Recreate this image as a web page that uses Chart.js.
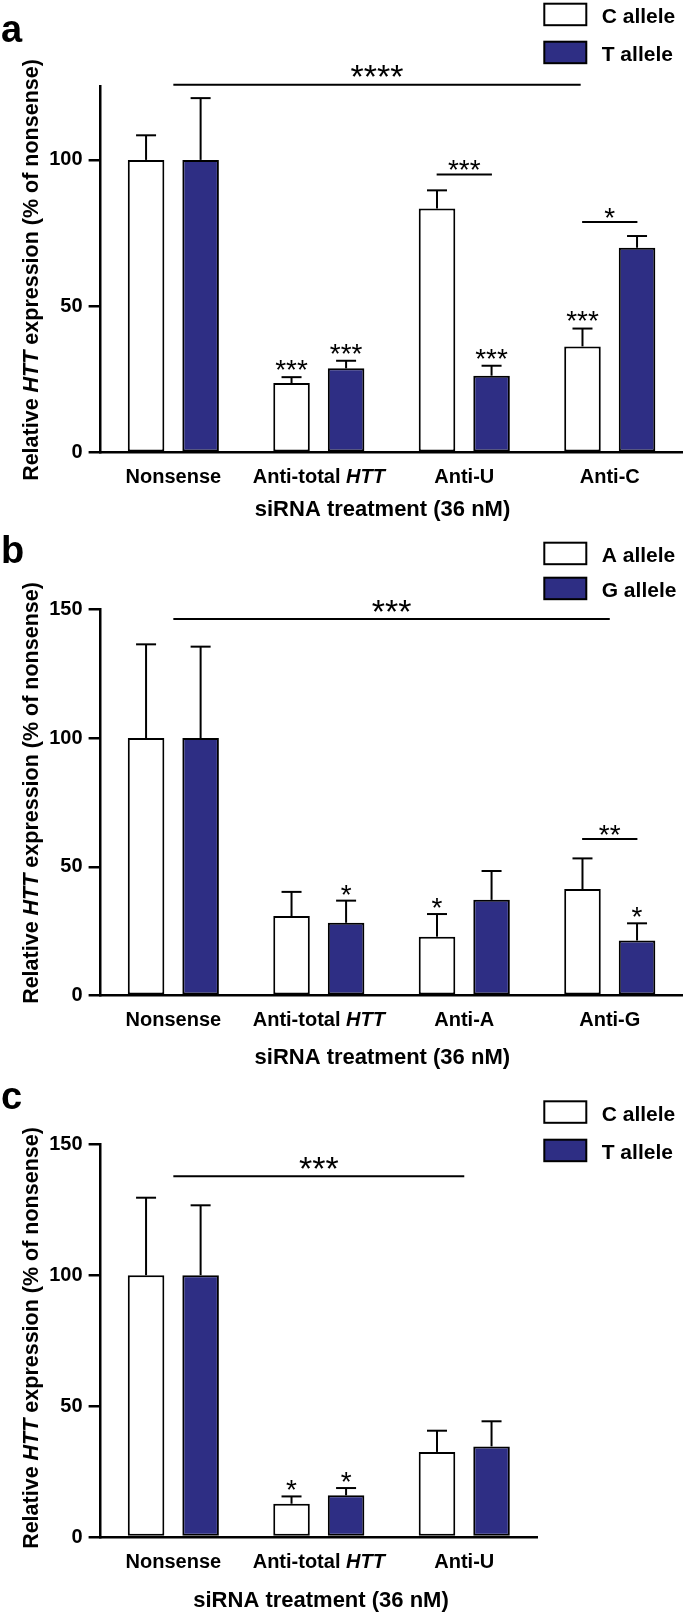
<!DOCTYPE html>
<html>
<head>
<meta charset="utf-8">
<script src="https://cdn.jsdelivr.net/npm/chart.js@4.4.0/dist/chart.umd.min.js"></script>
<style>
  html, body { margin: 0; padding: 0; background: #fff; }
  body { width: 685px; height: 1612px; position: relative; overflow: hidden; }
  canvas { position: absolute; left: 0; }
</style>
</head>
<body>
<canvas id="chartA" width="685" height="530" style="top:0px"></canvas>
<canvas id="chartB" width="685" height="540" style="top:530px"></canvas>
<canvas id="chartC" width="685" height="542" style="top:1070px"></canvas>
<script>
const FONT = "'Liberation Sans', Arial, Helvetica, sans-serif";
const NAVY = '#2e2e84';
const ITALIC_WORDS = ['HTT'];

const yTitle = 'Relative HTT expression (% of nonsense)';
const xTitle = 'siRNA treatment (36 nM)';

// panel a
const labelsA = ['Nonsense', 'Anti-total HTT', 'Anti-U', 'Anti-C'];
const cAlleleA = [100, 23.8, 83.4, 36.3];
const tAlleleA = [100, 28.8, 26.3, 70.0];
const cErrA = [8.4, 2.0, 6.2, 6.1];
const tErrA = [21.1, 2.6, 3.4, 4.0];
const cStarsA = ['', '***', '', '***'];
const tStarsA = ['', '***', '***', ''];
const yTicksA = [0, 50, 100];
const bracketsA = [
    { from: 0, to: 2.8, value: 125.7, text: '****', big: true },
    { from: 1.81, to: 2.19, value: 95, text: '***' },
    { from: 2.81, to: 3.19, value: 78.8, text: '*' }
];

// panel b
const labelsB = ['Nonsense', 'Anti-total HTT', 'Anti-A', 'Anti-G'];
const aAlleleB = [100, 30.9, 22.9, 41.4];
const gAlleleB = [100, 28.3, 37.2, 21.4];
const aErrB = [36.4, 9.4, 8.8, 11.9];
const gErrB = [35.5, 8.6, 11.2, 6.7];
const aStarsB = ['', '', '*', ''];
const gStarsB = ['', '*', '', '*'];
const yTicksB = [0, 50, 100, 150];
const bracketsB = [
    { from: 0, to: 3, value: 146.2, text: '***', big: true },
    { from: 2.81, to: 3.19, value: 60.8, text: '**' }
];

// panel c
const labelsC = ['Nonsense', 'Anti-total HTT', 'Anti-U'];
const cAlleleC = [100, 12.7, 32.5];
const tAlleleC = [100, 15.9, 34.6];
const cErrC = [29.6, 2.8, 8.1];
const tErrC = [26.7, 2.8, 9.6];
const cStarsC = ['', '*', ''];
const tStarsC = ['', '*', ''];
const yTicksC = [0, 50, 100, 150];
const bracketsC = [
    { from: 0, to: 2, value: 137.8, text: '***', big: true }
];

// text with italic gene names
function drawRich(ctx, text, x, y, size, align) {
    const re = new RegExp('(' + ITALIC_WORDS.join('|') + ')');
    const parts = text.split(re).filter(s => s);
    const fontFor = p => (ITALIC_WORDS.includes(p) ? 'italic ' : '') + 'bold ' + size + 'px ' + FONT;
    let total = 0;
    parts.forEach(p => { ctx.font = fontFor(p); total += ctx.measureText(p).width; });
    let cx = align === 'center' ? x - total / 2 : x;
    ctx.textAlign = 'left';
    parts.forEach(p => {
        ctx.font = fontFor(p);
        ctx.fillText(p, cx, y);
        cx += ctx.measureText(p).width;
    });
}

function line(ctx, x1, y1, x2, y2, w) {
    ctx.lineWidth = w;
    ctx.beginPath();
    ctx.moveTo(x1, y1);
    ctx.lineTo(x2, y2);
    ctx.stroke();
}

function stars(ctx, text, x, centerY, size) {
    ctx.font = size + 'px ' + FONT;
    ctx.textAlign = 'center';
    ctx.textBaseline = 'alphabetic';
    ctx.fillText(text, x, centerY + 0.567 * size);
}

function extras(p) {
    return {
        id: 'extras' + p.letter,
        afterDatasetsDraw(chart) {
            const ctx = chart.ctx;
            const xs = chart.scales.x, ys = chart.scales.y;
            ctx.save();
            ctx.strokeStyle = '#000';
            ctx.fillStyle = '#000';
            // error bars and stars over bars
            chart.data.datasets.forEach((ds, di) => {
                chart.getDatasetMeta(di).data.forEach((bar, i) => {
                    const top = ys.getPixelForValue(ds.data[i] + ds.errors[i]);
                    line(ctx, bar.x, bar.y, bar.x, top, 2);
                    line(ctx, bar.x - 10, top, bar.x + 10, top, 2);
                    if (ds.stars[i]) stars(ctx, ds.stars[i], bar.x, top - p.starGap, 28);
                });
            });
            // significance brackets
            p.brackets.forEach(b => {
                const x1 = xs.getPixelForValue(b.from), x2 = xs.getPixelForValue(b.to);
                const yy = ys.getPixelForValue(b.value);
                line(ctx, x1, yy, x2, yy, 2);
                if (b.big) stars(ctx, b.text, (x1 + x2) / 2, yy - 15.5, 34);
                else stars(ctx, b.text, (x1 + x2) / 2, yy - 11, 28);
            });
            ctx.restore();
        },
        afterDraw(chart) {
            const ctx = chart.ctx;
            const xs = chart.scales.x;
            const area = chart.chartArea;
            ctx.save();
            ctx.fillStyle = '#000';
            ctx.textBaseline = 'alphabetic';
            // category labels
            chart.data.labels.forEach((lab, i) => {
                drawRich(ctx, lab, xs.getPixelForTick(i), area.bottom + 30.5, 20, 'center');
            });
            // axis titles
            drawRich(ctx, xTitle, p.xTitleX, p.xTitleY, 22, 'center');
            ctx.save();
            ctx.translate(31.7, p.yTitleY);
            ctx.rotate(-Math.PI / 2);
            ctx.textBaseline = 'middle';
            drawRich(ctx, yTitle, 0, 0, 21.5, 'center');
            ctx.restore();
            // panel letter
            ctx.font = 'bold 38px ' + FONT;
            ctx.textAlign = 'left';
            ctx.fillText(p.letter, 1, p.letterY);
            // legend
            chart.data.datasets.forEach((ds, di) => {
                const top = p.legendTop + di * p.legendGap;
                ctx.fillStyle = ds.backgroundColor;
                ctx.fillRect(544.3, top + 1, 42, 21.5);
                ctx.strokeStyle = '#000';
                ctx.lineWidth = 2;
                ctx.strokeRect(544.3, top + 1, 42, 21.5);
                ctx.fillStyle = '#000';
                ctx.font = 'bold 21px ' + FONT;
                ctx.textAlign = 'left';
                ctx.fillText(ds.label, 601.7, top + 20.7);
            });
            ctx.restore();
        }
    };
}

function buildPanel(canvasId, p) {
    const el = document.getElementById(canvasId);
    return new Chart(el.getContext('2d'), {
        type: 'bar',
        data: {
            labels: p.labels,
            datasets: p.series.map(s => ({
                label: s.name,
                data: s.values,
                errors: s.errors,
                stars: s.stars,
                backgroundColor: s.color,
                borderColor: '#000',
                borderWidth: 2,
                borderSkipped: false,
                categoryPercentage: 0.75,
                barPercentage: 0.67
            }))
        },
        options: {
            responsive: false,
            animation: false,
            devicePixelRatio: 1,
            layout: { padding: { top: p.top, right: p.padRight, bottom: 0, left: 0 } },
            plugins: { legend: { display: false }, tooltip: { enabled: false } },
            scales: {
                x: {
                    ticks: { display: false },
                    grid: { display: false },
                    border: { display: true, color: '#000', width: 2.5 },
                    afterFit: s => { s.height = p.xHeight; s.paddingLeft = 0; s.paddingRight = 0; }
                },
                y: {
                    min: 0,
                    max: p.yMax,
                    ticks: { color: '#000', padding: 6, font: { family: FONT, size: 20, weight: 'bold' } },
                    grid: { drawOnChartArea: false, drawTicks: true, tickLength: 12, color: '#000', lineWidth: 2.5 },
                    border: { display: true, color: '#000', width: 2.5 },
                    afterBuildTicks: s => { s.ticks = p.yTicks.map(v => ({ value: v })); },
                    afterFit: s => { s.width = 100.6; s.paddingTop = 0; s.paddingBottom = 0; }
                }
            }
        },
        plugins: [extras(p)]
    });
}

document.addEventListener('DOMContentLoaded', function() {
    buildPanel('chartA', {
        letter: 'a', labels: labelsA, yMax: 125, yTicks: yTicksA, brackets: bracketsA,
        series: [
            { name: 'C allele', values: cAlleleA, errors: cErrA, stars: cStarsA, color: '#ffffff' },
            { name: 'T allele', values: tAlleleA, errors: tErrA, stars: tStarsA, color: NAVY }
        ],
        top: 86.7, xHeight: 77.3, padRight: 2.5, starGap: 14,
        letterY: 42, yTitleY: 270, xTitleX: 382.5, xTitleY: 516, legendTop: 2.7, legendGap: 38
    });
    buildPanel('chartB', {
        letter: 'b', labels: labelsB, yMax: 150, yTicks: yTicksB, brackets: bracketsB,
        series: [
            { name: 'A allele', values: aAlleleB, errors: aErrB, stars: aStarsB, color: '#ffffff' },
            { name: 'G allele', values: gAlleleB, errors: gErrB, stars: gStarsB, color: NAVY }
        ],
        top: 79.3, xHeight: 74.3, padRight: 2.5, starGap: 13,
        letterY: 33.3, yTitleY: 263, xTitleX: 382.3, xTitleY: 534, legendTop: 11.7, legendGap: 35
    });
    buildPanel('chartC', {
        letter: 'c', labels: labelsC, yMax: 150, yTicks: yTicksC, brackets: bracketsC,
        series: [
            { name: 'C allele', values: cAlleleC, errors: cErrC, stars: cStarsC, color: '#ffffff' },
            { name: 'T allele', values: tAlleleC, errors: tErrC, stars: tStarsC, color: NAVY }
        ],
        top: 74.3, xHeight: 75, padRight: 148, starGap: 13,
        letterY: 39.3, yTitleY: 268, xTitleX: 321, xTitleY: 537, legendTop: 30.3, legendGap: 38.4
    });
});
</script>
</body>
</html>
